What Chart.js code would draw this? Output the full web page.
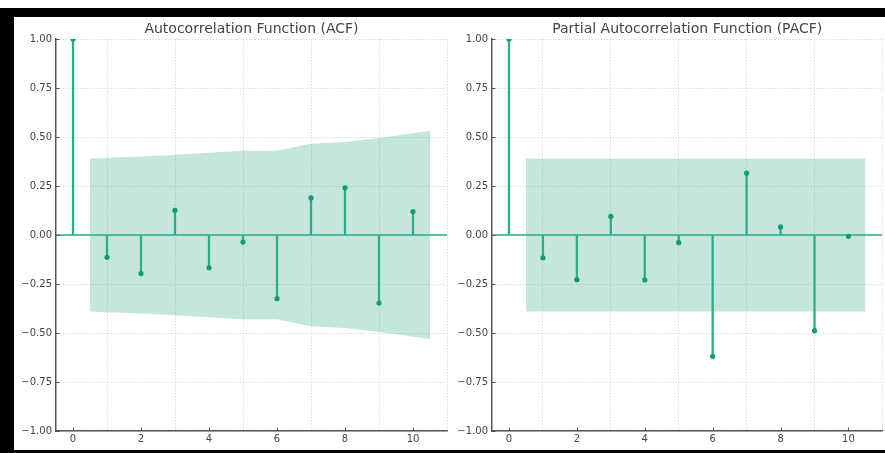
<!DOCTYPE html>
<html>
<head>
<meta charset="utf-8">
<script src="https://cdn.jsdelivr.net/npm/chart.js@4.4.1/dist/chart.umd.min.js"></script>
<style>
html,body{margin:0;padding:0;background:#fff;width:885px;height:453px;overflow:hidden;position:relative}
.frame{position:absolute;background:#000}
.wrap{position:absolute;top:17px;height:433px}
canvas{display:block}
</style>
</head>
<body>
<div class="frame" style="left:0;top:8px;width:885px;height:9px"></div>
<div class="frame" style="left:0;top:8px;width:14px;height:445px"></div>
<div class="frame" style="left:0;top:450px;width:885px;height:3px"></div>
<div class="wrap" style="left:14px;width:440px"><canvas id="acf" width="440" height="433"></canvas></div>
<div class="wrap" style="left:450px;width:435px"><canvas id="pacf" width="435" height="433"></canvas></div>
<script>
// ---- data ----
const LAGS = [0, 1, 2, 3, 4, 5, 6, 7, 8, 9, 10];
const ACF_VALUES = [1.0, -0.114, -0.197, 0.126, -0.167, -0.036, -0.325, 0.189, 0.241, -0.347, 0.120];
const PACF_VALUES = [1.0, -0.116, -0.228, 0.095, -0.229, -0.039, -0.619, 0.316, 0.041, -0.488, -0.007];
const BAND_LAGS = [0.5, 2, 3, 4, 5, 6, 7, 8, 9, 10.5];
const ACF_BAND = [0.39, 0.40, 0.41, 0.42, 0.43, 0.43, 0.465, 0.475, 0.495, 0.53];
const PACF_BAND = [0.39, 0.39, 0.39, 0.39, 0.39, 0.39, 0.39, 0.39, 0.39, 0.39];
const X_TICKS = [0, 2, 4, 6, 8, 10];
const Y_TICKS = [-1.0, -0.75, -0.5, -0.25, 0.0, 0.25, 0.5, 0.75, 1.0];
const X_LIMITS = [-0.5, 11];
const Y_LIMITS = [-1, 1];
const TITLES = ["Autocorrelation Function (ACF)", "Partial Autocorrelation Function (PACF)"];

// ---- styles ----
const STEM = '#2aae88';
const MARK = '#12997a';
const BAND = 'rgba(27,158,119,0.26)';
const AXIS = '#555';
const GRID = '#d9d9d9';
const TEXT = '#444';

Chart.defaults.font.family = "'DejaVu Sans', sans-serif";
Chart.defaults.font.size = 10;
Chart.defaults.color = TEXT;

const inwardTicks = {
  id: 'inwardTicks',
  afterDatasetsDraw(chart) {
    const {ctx, chartArea: a, scales: {x, y}} = chart;
    ctx.save();
    ctx.strokeStyle = AXIS;
    ctx.lineWidth = 1;
    ctx.beginPath();
    x.ticks.forEach(t => { const p = Math.round(x.getPixelForValue(t.value)) + 0.5; ctx.moveTo(p, a.bottom); ctx.lineTo(p, a.bottom - 3.5); });
    y.ticks.forEach(t => { const p = Math.round(y.getPixelForValue(t.value)) + 0.5; ctx.moveTo(a.left, p); ctx.lineTo(a.left + 3.5, p); });
    ctx.stroke();
    ctx.restore();
  }
};

function makeChart(id, title, values, band, padRight) {
  const pts = LAGS.map((l, i) => ({x: l, y: values[i]}));
  new Chart(document.getElementById(id), {
    type: 'line',
    data: {
      datasets: [
        { // band upper
          type: 'line', data: BAND_LAGS.map((l, i) => ({x: l, y: band[i]})),
          fill: '+1', backgroundColor: BAND, borderWidth: 0, pointRadius: 0, tension: 0, order: 10
        },
        { // band lower
          type: 'line', data: BAND_LAGS.map((l, i) => ({x: l, y: -band[i]})),
          fill: false, borderWidth: 0, pointRadius: 0, tension: 0, order: 11
        },
        { // stems
          type: 'bar', data: pts, backgroundColor: STEM, barThickness: 1.6, order: 3
        },
        { // zero line
          type: 'line', data: X_LIMITS.map(v => ({x: v, y: 0})),
          borderColor: STEM, borderWidth: 1.6, pointRadius: 0, fill: false, order: 2
        },
        { // markers
          type: 'scatter', data: pts, backgroundColor: MARK, borderWidth: 0,
          pointRadius: 2.6, pointHoverRadius: 2.6, order: 1
        }
      ]
    },
    options: {
      responsive: false,
      animation: false,
      events: [],
      layout: {padding: {left: 0, top: 0, right: padRight, bottom: 0}},
      plugins: {
        legend: {display: false},
        tooltip: {enabled: false},
        title: {
          display: true, text: title, fullSize: false, color: TEXT,
          font: {size: 14, weight: 'normal'}, padding: {top: 4, bottom: 1.2}
        }
      },
      scales: {
        x: {
          type: 'linear', min: X_LIMITS[0], max: X_LIMITS[1], offset: false,
          afterBuildTicks: s => { s.ticks = X_TICKS.map(v => ({value: v})); },
          afterFit: s => { s.height = 19; },
          ticks: {padding: 2, color: TEXT, callback: v => String(v)},
          grid: {color: GRID, lineWidth: 0.9, drawTicks: false},
          border: {display: true, color: AXIS, width: 1.5, dash: [1.5, 1.5]}
        },
        y: {
          min: Y_LIMITS[0], max: Y_LIMITS[1],
          afterBuildTicks: s => { s.ticks = Y_TICKS.map(v => ({value: v})); },
          afterFit: s => { s.width = 42; },
          ticks: {padding: 4, color: TEXT, callback: v => v.toFixed(2).replace('-', '\u2212')},
          grid: {color: GRID, lineWidth: 0.9, drawTicks: false},
          border: {display: true, color: AXIS, width: 1.5, dash: [1.5, 1.5]}
        }
      }
    },
    plugins: [inwardTicks]
  });
}

makeChart('acf', TITLES[0], ACF_VALUES, ACF_BAND, 7);
makeChart('pacf', TITLES[1], PACF_VALUES, PACF_BAND, 2);
</script>
</body>
</html>
